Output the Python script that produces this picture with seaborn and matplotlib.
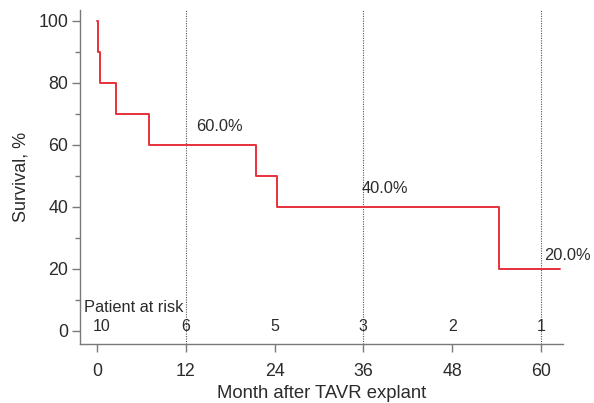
import matplotlib.pyplot as plt
import seaborn as sns
import pandas as pd
import numpy as np

# Kaplan-Meier steps
months = [0, 0.1, 0.45, 2.6, 7.0, 21.5, 24.3, 54.3, 62.6]
survival = [100, 90, 80, 70, 60, 50, 40, 20, 20]

risk_months = [0, 12, 24, 36, 48, 60]
risk_counts = [10, 6, 5, 3, 2, 1]

labels_x = [13.4, 35.8, 60.5]
labels_y = [66.0, 45.8, 24.5]
labels_txt = ["60.0%", "40.0%", "20.0%"]

guide_months = [12, 36, 60]

km = pd.DataFrame({"Month": months, "Survival": survival})

sns.set_style("ticks")
plt.rcParams['font.family'] = ['Liberation Sans', 'DejaVu Sans']
txt = "#2b2b2b"
axc = "#7a7a7a"

fig = plt.figure(figsize=(5.94, 4.03), dpi=100)
ax = fig.add_axes([0.1347, 0.1464, 0.948 - 0.1347, 0.975 - 0.1464])

sns.lineplot(data=km, x="Month", y="Survival", drawstyle="steps-post",
             color="#e8313c", linewidth=1.4, ax=ax)

for m in guide_months:
    ax.axvline(m, color="#555555", linestyle=(0, (1, 1.2)), linewidth=0.8, zorder=0)

for x, y, t in zip(labels_x, labels_y, labels_txt):
    ax.text(x, y, t, fontsize=11.8, color=txt, ha="left", va="center")

ax.text(-1.7, 7.7, "Patient at risk", fontsize=11.8, color=txt, ha="left", va="center")
for m, n in zip(risk_months, risk_counts):
    xx = m + 0.6 if m == 0 else m
    ax.text(xx, 1.3, str(n), fontsize=11.5, color=txt, ha="center", va="center")

ax.set_xlim(-2.3, 63.0)
ax.set_ylim(-4.2, 103.5)
ax.set_xticks(risk_months)
ax.set_yticks([0, 20, 40, 60, 80, 100])
ax.set_yticks([10, 30, 50, 70, 90], minor=True)
ax.set_xlabel("Month after TAVR explant", fontsize=13.3, color=txt, labelpad=4)
ax.set_ylabel("Survival, %", fontsize=13, color=txt, labelpad=6)
ax.tick_params(axis="both", which="major", labelsize=12.8, labelcolor=txt,
               color=axc, length=5.5, width=1)
ax.tick_params(axis="x", which="major", pad=8)
ax.tick_params(axis="y", which="major", pad=3)
ax.tick_params(axis="y", which="minor", color=axc, length=3.5, width=1)
for s in ["left", "bottom"]:
    ax.spines[s].set_color(axc)
    ax.spines[s].set_linewidth(1)
sns.despine(ax=ax)

fig.savefig("out.png", dpi=100)
